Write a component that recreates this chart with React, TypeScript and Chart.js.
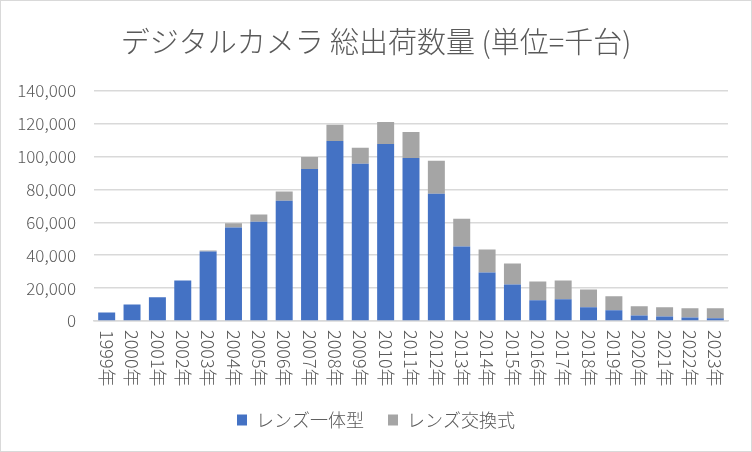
import React, { useEffect, useRef } from "react";
import { Chart, registerables } from "chart.js";

Chart.register(...registerables);

const years = ["1999年","2000年","2001年","2002年","2003年","2004年","2005年","2006年","2007年","2008年","2009年","2010年","2011年","2012年","2013年","2014年","2015年","2016年","2017年","2018年","2019年","2020年","2021年","2022年","2023年"];
const compact = [5100,10100,14400,24700,42300,56800,60400,73200,92500,109500,95600,107700,99200,77400,45300,29500,22200,12600,13200,8400,6500,3400,2800,2200,1600];
const interchangeable = [0,0,0,0,500,2600,4300,5600,7300,9800,9700,13300,15800,20000,16900,14000,12800,11400,11400,10800,8500,5600,5600,5600,6200];
const titleText = "デジタルカメラ 総出荷数量 (単位=千台)";
const seriesNames = ["レンズ一体型", "レンズ交換式"];

const FONT = "'Noto Sans CJK JP', 'Noto Sans', sans-serif";
const TEXT = "#595959";

const xLabelPlugin = {
  id: "xLabelsCW",
  afterDraw(chart: any) {
    const xs = chart.scales.x;
    const ctx = chart.ctx;
    ctx.save();
    ctx.fillStyle = TEXT;
    ctx.font = `300 18px ${FONT}`;
    ctx.textAlign = "left";
    ctx.textBaseline = "middle";
    years.forEach((lab, i) => {
      const x = xs.getPixelForValue(i);
      ctx.save();
      ctx.translate(x, xs.top + 9);
      ctx.rotate(Math.PI / 2);
      ctx.fillText(lab, 0, 0);
      ctx.restore();
    });
    ctx.restore();
  },
};

export default function App() {
  const ref = useRef<HTMLCanvasElement>(null);
  useEffect(() => {
    document.body.style.margin = "0";
    const chart = new Chart(ref.current!, {
      type: "bar",
      data: {
        labels: years,
        datasets: [
          { label: seriesNames[0], data: compact, backgroundColor: "#4472C4", barPercentage: 0.67, categoryPercentage: 1 },
          { label: seriesNames[1], data: interchangeable, backgroundColor: "#A5A5A5", barPercentage: 0.67, categoryPercentage: 1 },
        ],
      },
      options: {
        animation: false,
        responsive: false,
        layout: { padding: { left: 0, right: 0, top: 0, bottom: 12 } },
        plugins: {
          title: {
            display: true,
            text: titleText,
            color: TEXT,
            font: { family: FONT, size: 29, weight: 300 },
            padding: { top: 24, bottom: 31 },
          },
          legend: {
            position: "bottom",
            labels: {
              color: TEXT,
              font: { family: FONT, size: 18, weight: 300 },
              boxWidth: 10,
              boxHeight: 11,
              padding: 24,
            },
          },
          tooltip: { enabled: false },
        },
        scales: {
          x: {
            stacked: true,
            grid: { display: false },
            border: { color: "#d9d9d9", width: 1.5 },
            ticks: { display: false },
            afterFit(scale: any) { scale.height = 66; },
          },
          y: {
            stacked: true,
            min: 0,
            max: 140000,
            grid: { color: "#d9d9d9", lineWidth: 1.5, drawTicks: false },
            border: { display: false },
            afterFit(scale: any) { scale.width = 93; },
            ticks: {
              stepSize: 20000,
              color: TEXT,
              padding: 18,
              font: { family: FONT, size: 17, weight: 300 },
              callback: (v: any) => Number(v).toLocaleString("en-US"),
            },
          },
          yRight: {
            position: "right",
            display: true,
            grid: { display: false },
            border: { display: false },
            ticks: { display: false },
            afterFit(scale: any) { scale.width = 23; },
          },
        },
      },
      plugins: [xLabelPlugin],
    });
    return () => chart.destroy();
  }, []);
  return (
    <div style={{ width: 752, height: 452, boxSizing: "border-box", border: "1px solid #d9d9d9", background: "#fff" }}>
      <canvas ref={ref} width={750} height={450} />
    </div>
  );
}
